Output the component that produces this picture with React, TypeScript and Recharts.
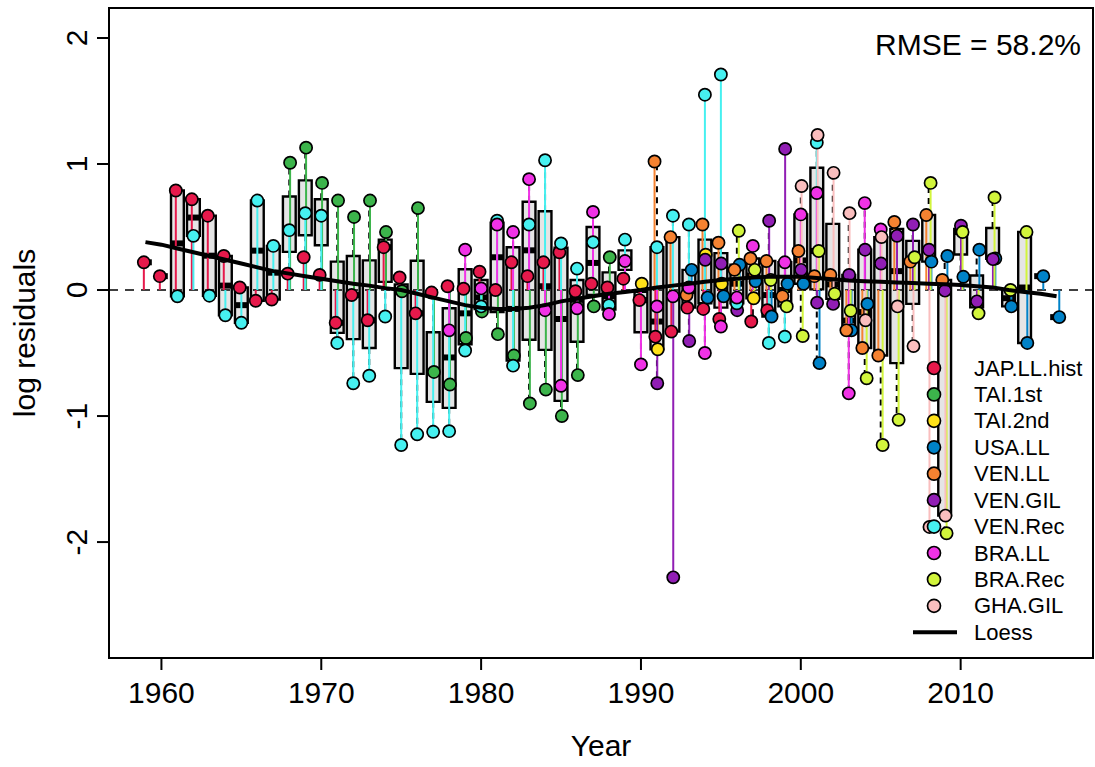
import React from 'react';
import { ScatterChart, Scatter, XAxis, YAxis, ReferenceArea, ReferenceLine, ErrorBar, Legend } from 'recharts';

const FONT = "'Liberation Sans', Arial, Helvetica, sans-serif";
const N = null;

const YEARS = [
  1959, 1960, 1961, 1962, 1963, 1964, 1965, 1966, 1967, 1968,
  1969, 1970, 1971, 1972, 1973, 1974, 1975, 1976, 1977, 1978,
  1979, 1980, 1981, 1982, 1983, 1984, 1985, 1986, 1987, 1988,
  1989, 1990, 1991, 1992, 1993, 1994, 1995, 1996, 1997, 1998,
  1999, 2000, 2001, 2002, 2003, 2004, 2005, 2006, 2007, 2008,
  2009, 2010, 2011, 2012, 2013, 2014, 2015, 2016,
];

// log residuals by index, one slot per year (null = no observation)
const JAP_LL_HIST = [
  0.22, 0.11, 0.79, 0.72, 0.59, 0.27, 0.02, -0.085, -0.075, 0.13,
  0.26, 0.12, -0.26, -0.04, -0.24, 0.34, 0.1, -0.185, -0.02, 0.03,
  0.01, 0.145, 0.0, 0.22, 0.11, 0.22, 0.3, -0.01, 0.05, 0.02,
  0.09, -0.08, -0.37, -0.33, -0.14, -0.15, -0.23, N, -0.25, -0.16,
  N, N, N, N, N, N, N, N, N, N,
  N, N, N, N, N, N, N, N,
];
const TAI_1ST = [
  N, N, N, N, N, N, N, N, N, 1.01,
  1.13, 0.85, 0.71, 0.58, 0.71, 0.46, -0.01, 0.65, -0.65, -0.75,
  -0.38, -0.17, -0.35, -0.52, -0.9, -0.79, -1.0, -0.675, -0.13, 0.26,
  N, N, N, N, N, N, N, N, N, N,
  N, N, N, N, N, N, N, N, N, N,
  N, N, N, N, N, N, N, N,
];
const TAI_2ND = [
  N, N, N, N, N, N, N, N, N, N,
  N, N, N, N, N, N, N, N, N, N,
  N, N, N, N, N, N, N, N, N, N,
  N, 0.05, -0.47, N, N, 0.28, 0.05, N, -0.065, N,
  N, N, N, N, N, N, N, N, N, N,
  N, N, N, N, N, N, N, N,
];
const USA_LL = [
  N, N, N, N, N, N, N, N, N, N,
  N, N, N, N, N, N, N, N, N, N,
  N, N, N, N, N, N, N, N, N, N,
  N, N, N, N, 0.16, -0.06, -0.05, 0.2, 0.07, -0.21,
  0.05, 0.05, -0.58, N, -0.32, -0.11, N, N, N, 0.225,
  0.27, 0.105, 0.32, 0.25, -0.13, -0.42, 0.11, -0.215,
];
const VEN_LL = [
  N, N, N, N, N, N, N, N, N, N,
  N, N, N, N, N, N, N, N, N, N,
  N, N, N, N, N, N, N, N, N, N,
  N, N, 1.02, 0.42, -0.04, 0.52, 0.375, 0.16, 0.25, 0.23,
  -0.05, 0.31, 0.11, 0.12, -0.32, -0.46, -0.52, 0.54, 0.225, 0.595,
  0.08, N, N, N, N, N, N, N,
];
const VEN_GIL = [
  N, N, N, N, N, N, N, N, N, N,
  N, N, N, N, N, N, N, N, N, N,
  N, N, N, N, N, N, N, N, N, N,
  N, N, -0.74, -2.28, -0.405, 0.24, 0.21, -0.16, N, 0.55,
  1.12, 0.16, -0.1, -0.11, 0.12, 0.32, 0.21, 0.43, 0.52, 0.32,
  -0.005, 0.51, -0.09, 0.245, N, N, N, N,
];
const VEN_REC = [
  N, N, -0.05, 0.43, -0.045, -0.2, -0.26, 0.71, 0.35, 0.475,
  0.61, 0.59, -0.42, -0.74, -0.68, -0.21, -1.23, -1.145, -1.125, -1.12,
  -0.48, -0.13, 0.55, -0.6, 0.52, 1.03, 0.37, 0.17, 0.38, -0.12,
  0.4, N, 0.34, 0.59, 0.52, 1.55, 1.71, -0.105, N, -0.42,
  -0.37, N, 1.17, N, N, N, N, N, N, N,
  N, N, N, N, N, N, N, N,
];
const BRA_LL = [
  N, N, N, N, N, N, N, N, N, N,
  N, N, N, N, N, N, N, N, N, -0.32,
  0.32, 0.013, 0.52, 0.46, 0.88, -0.16, -0.76, -0.145, 0.62, -0.19,
  0.23, -0.59, -0.13, -0.05, 0.02, -0.5, -0.29, -0.06, 0.35, N,
  0.22, 0.6, 0.77, N, -0.82, 0.69, 0.48, N, N, N,
  N, N, N, N, N, N, N, N,
];
const BRA_REC = [
  N, N, N, N, N, N, N, N, N, N,
  N, N, N, N, N, N, N, N, N, N,
  N, N, N, N, N, N, N, N, N, N,
  N, N, N, N, N, N, N, 0.47, 0.16, 0.08,
  -0.13, -0.365, 0.31, -0.03, -0.165, -0.7, -1.23, -1.03, 0.26, 0.85,
  -1.93, 0.46, -0.185, 0.735, 0.0, 0.46, N, N,
];
const GHA_GIL = [
  N, N, N, N, N, N, N, N, N, N,
  N, N, N, N, N, N, N, N, N, N,
  N, N, N, N, N, N, N, N, N, N,
  N, N, N, N, N, N, N, N, N, N,
  N, 0.825, 1.23, 0.93, 0.61, -0.24, 0.42, -0.13, -0.445, -1.88,
  -1.79, N, N, N, N, N, N, N,
];

// smoothed mean residual per year
const LOESS = [
  0.38, 0.36, 0.33, 0.3, 0.27, 0.24, 0.21, 0.18, 0.15, 0.13,
  0.11, 0.09, 0.07, 0.05, 0.035, 0.015, 0.0, -0.03, -0.06, -0.09,
  -0.12, -0.14, -0.15, -0.15, -0.14, -0.12, -0.09, -0.07, -0.05, -0.03,
  -0.015, 0.0, 0.02, 0.035, 0.05, 0.065, 0.08, 0.09, 0.1, 0.105,
  0.105, 0.105, 0.095, 0.085, 0.075, 0.07, 0.065, 0.06, 0.055, 0.05,
  0.045, 0.04, 0.03, 0.02, 0.0, -0.015, -0.03, -0.05,
];

const INDICES = ['JAP.LL.hist', 'TAI.1st', 'TAI.2nd', 'USA.LL', 'VEN.LL', 'VEN.GIL', 'VEN.Rec', 'BRA.LL', 'BRA.Rec', 'GHA.GIL'];
const SERIES = [JAP_LL_HIST, TAI_1ST, TAI_2ND, USA_LL, VEN_LL, VEN_GIL, VEN_REC, BRA_LL, BRA_REC, GHA_GIL];
const COLORS = ['#e6194b', '#3cb44b', '#ffe119', '#0082c8', '#f58231', '#911eb4', '#46f0f0', '#f032e6', '#d2f53c', '#fabebe'];
// small horizontal offset per index so overlapping points separate
const JITTER = [-0.1, 0.05, 0.05, 0.17, -0.15, 0.02, 0.0, 0.0, 0.12, 0.05];

const RMSE_LABEL = 'RMSE = 58.2%';
const X_TICKS = [1960, 1970, 1980, 1990, 2000, 2010];
const Y_TICKS = [-2, -1, 0, 1, 2];
const X_DOMAIN: [number, number] = [1956.72, 2018.28];
const Y_DOMAIN: [number, number] = [-2.92, 2.238];
const AXIS_FONT = 30;

// Tukey five-number summary, same as R's fivenum()
function fivenum(v: number[]) {
  const xs = [...v].sort((a, b) => a - b);
  const n = xs.length;
  const n4 = Math.floor((n + 3) / 2) / 2;
  const d = [1, n4, (n + 1) / 2, n + 1 - n4, n];
  return d.map((di) => 0.5 * (xs[Math.floor(di) - 1] + xs[Math.ceil(di) - 1]));
}

function boxStats(v: number[]) {
  const s = fivenum(v);
  const iqr = s[3] - s[1];
  const inside = v.filter((x) => x >= s[1] - 1.5 * iqr && x <= s[3] + 1.5 * iqr);
  return { lo: Math.min(...inside), q1: s[1], med: s[2], q3: s[3], hi: Math.max(...inside) };
}

const boxes = YEARS.map((year, t) => {
  const vals = SERIES.map((s) => s[t]).filter((v): v is number => v != null);
  return { year, ...boxStats(vals) };
});

const seriesData = SERIES.map((vals, i) =>
  YEARS.flatMap((yr, t) => {
    const v = vals[t];
    if (v == null) return [];
    return [{ x: yr + JITTER[i], y: v, err: v > 0 ? [v, 0] : [0, -v] }];
  })
);

const loessData = YEARS.map((yr, t) => ({ x: yr, y: LOESS[t] }));

const makeDot = (fill: string) => (p: any) => (
  <circle cx={p.cx} cy={p.cy} r={6.1} fill={fill} stroke="#000" strokeWidth={1.7} />
);

const XTick = ({ x, y, payload }: any) => (
  <text x={x} y={y + 22} textAnchor="middle" dominantBaseline="central" fontSize={AXIS_FONT} fontFamily={FONT} fill="#000">
    {payload.value}
  </text>
);

const YTick = ({ x, y, payload }: any) => (
  <text
    x={x - 20}
    y={y}
    transform={`rotate(-90 ${x - 20} ${y})`}
    textAnchor="middle"
    dominantBaseline="central"
    fontSize={AXIS_FONT}
    fontFamily={FONT}
    fill="#000"
  >
    {payload.value}
  </text>
);

const XTitle = ({ viewBox }: any) => (
  <text x={viewBox.x + viewBox.width / 2} y={viewBox.y + 87} textAnchor="middle" dominantBaseline="central" fontSize={AXIS_FONT} fontFamily={FONT} fill="#000">
    Year
  </text>
);

const YTitle = ({ viewBox }: any) => {
  const cx = viewBox.x + 24;
  const cy = viewBox.y + viewBox.height / 2;
  return (
    <text x={cx} y={cy} transform={`rotate(-90 ${cx} ${cy})`} textAnchor="middle" dominantBaseline="central" fontSize={AXIS_FONT} fontFamily={FONT} fill="#000">
      log residuals
    </text>
  );
};

const LegendBox = () => (
  <svg width={190} height={300} style={{ display: 'block' }}>
    {INDICES.map((name, i) => (
      <g key={name}>
        <circle cx={34} cy={18 + i * 26.43} r={6.5} fill={COLORS[i]} stroke="#000" strokeWidth={1.7} />
        <text x={74} y={18 + i * 26.43} dominantBaseline="central" fontSize={22} fontFamily={FONT} fill="#000">
          {name}
        </text>
      </g>
    ))}
    <line x1={13} x2={57} y1={18 + 10 * 26.43} y2={18 + 10 * 26.43} stroke="#000" strokeWidth={4} />
    <text x={74} y={18 + 10 * 26.43} dominantBaseline="central" fontSize={22} fontFamily={FONT} fill="#000">
      Loess
    </text>
  </svg>
);

export default function App() {
  const whiskers = boxes.flatMap((b) => {
    const els: React.ReactElement[] = [];
    if (b.hi > b.q3) {
      els.push(
        <ReferenceLine key={`wu${b.year}`} segment={[{ x: b.year, y: b.q3 }, { x: b.year, y: b.hi }]} stroke="#000" strokeWidth={2} strokeDasharray="6 5" />,
        <ReferenceLine key={`su${b.year}`} segment={[{ x: b.year - 0.2, y: b.hi }, { x: b.year + 0.2, y: b.hi }]} stroke="#000" strokeWidth={2} />
      );
    }
    if (b.lo < b.q1) {
      els.push(
        <ReferenceLine key={`wl${b.year}`} segment={[{ x: b.year, y: b.q1 }, { x: b.year, y: b.lo }]} stroke="#000" strokeWidth={2} strokeDasharray="6 5" />,
        <ReferenceLine key={`sl${b.year}`} segment={[{ x: b.year - 0.2, y: b.lo }, { x: b.year + 0.2, y: b.lo }]} stroke="#000" strokeWidth={2} />
      );
    }
    return els;
  });

  const boxRects = boxes.flatMap((b) => [
    <ReferenceArea
      key={`box${b.year}`}
      x1={b.year - 0.4}
      x2={b.year + 0.4}
      y1={b.q1}
      y2={b.q3}
      fill="#cccccc"
      fillOpacity={0.5}
      stroke="#000"
      strokeWidth={2.4}
      ifOverflow="visible"
    />,
    <ReferenceLine key={`med${b.year}`} segment={[{ x: b.year - 0.4, y: b.med }, { x: b.year + 0.4, y: b.med }]} stroke="#000" strokeWidth={6} />,
  ]);

  return (
    <div style={{ position: 'absolute', left: 0, top: 0, width: 1095, height: 767, background: '#fff' }}>
      <ScatterChart width={1095} height={767} margin={{ top: 8, right: 2, bottom: 0, left: 0 }}>
        <XAxis
          type="number"
          dataKey="x"
          domain={X_DOMAIN}
          ticks={X_TICKS}
          interval={0}
          allowDataOverflow
          height={109}
          axisLine={false}
          tickSize={12}
          tickMargin={0}
          tickLine={{ stroke: '#000', strokeWidth: 2 }}
          tick={<XTick />}
          label={<XTitle />}
        />
        <YAxis
          type="number"
          dataKey="y"
          domain={Y_DOMAIN}
          ticks={Y_TICKS}
          interval={0}
          allowDataOverflow
          width={109}
          axisLine={false}
          tickSize={12}
          tickMargin={0}
          tickLine={{ stroke: '#000', strokeWidth: 2 }}
          tick={<YTick />}
          label={<YTitle />}
        />
        <ReferenceArea x1={X_DOMAIN[0]} x2={X_DOMAIN[1]} y1={Y_DOMAIN[0]} y2={Y_DOMAIN[1]} fill="none" stroke="#000" strokeWidth={2} ifOverflow="visible" />
        {whiskers}
        {boxRects}
        <ReferenceLine y={0} stroke="#000" strokeWidth={1.6} strokeDasharray="9 7" />
        {seriesData.map((data, i) => (
          <Scatter key={INDICES[i]} name={INDICES[i]} data={data} shape={makeDot(COLORS[i])} isAnimationActive={false} legendType="none">
            <ErrorBar dataKey="err" direction="y" width={0} stroke={COLORS[i]} strokeWidth={2} isAnimationActive={false} />
          </Scatter>
        ))}
        <Scatter
          name="Loess"
          data={loessData}
          line={{ stroke: '#000', strokeWidth: 4 }}
          lineType="joint"
          shape={() => <g />}
          isAnimationActive={false}
          legendType="none"
        />
        <Legend
          layout="vertical"
          align="center"
          verticalAlign="middle"
          wrapperStyle={{ position: 'absolute', left: 900, top: 350, width: 190, height: 300 }}
          content={() => <LegendBox />}
        />
      </ScatterChart>
      <div
        style={{
          position: 'absolute',
          right: 14,
          top: 30,
          fontFamily: FONT,
          fontSize: AXIS_FONT,
          lineHeight: 1,
          color: '#000',
          whiteSpace: 'nowrap',
        }}
      >
        {RMSE_LABEL}
      </div>
    </div>
  );
}
